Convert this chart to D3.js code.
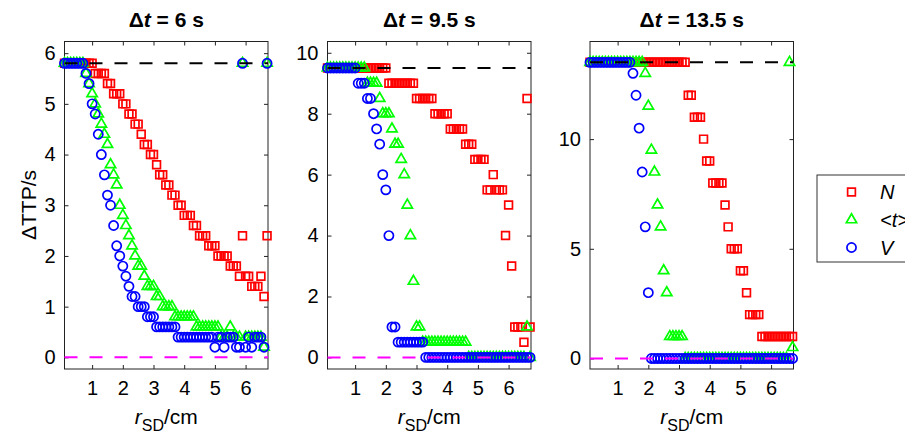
<!DOCTYPE html>
<html>
<head>
<meta charset="utf-8">
<script src="https://cdn.jsdelivr.net/npm/d3@7"></script>
<style>
body { margin: 0; background: #fff; }
text { font-family: "Liberation Sans", Arial, sans-serif; fill: #000; }
</style>
</head>
<body>
<svg id="chart" width="905" height="436"></svg>
<script>
// source distance grid (cm)
var rSD = [0.1,0.2,0.3,0.4,0.5,0.6,0.7,0.8,0.9,1.0,
           1.1,1.2,1.3,1.4,1.5,1.6,1.7,1.8,1.9,2.0,
           2.1,2.2,2.3,2.4,2.5,2.6,2.7,2.8,2.9,3.0,
           3.1,3.2,3.3,3.4,3.5,3.6,3.7,3.8,3.9,4.0,
           4.1,4.2,4.3,4.4,4.5,4.6,4.7,4.8,4.9,5.0,
           5.1,5.2,5.3,5.4,5.5,5.6,5.7,5.8,5.9,6.0,
           6.1,6.2,6.3,6.4,6.5,6.6,6.7];

// dt = 6 s
var dt6N = [5.8,5.8,5.8,5.8,5.8,5.8,5.8,5.8,5.8,5.8,
            5.6,5.6,5.6,5.6,5.4,5.4,5.2,5.2,5.2,5.0,
            5.0,4.8,4.8,4.6,4.6,4.4,4.2,4.2,4.0,4.0,
            3.8,3.6,3.6,3.4,3.4,3.2,3.2,3.0,3.0,2.8,
            2.8,2.8,2.6,2.6,2.4,2.4,2.4,2.2,2.2,2.2,
            2.0,2.0,2.0,2.0,1.8,1.8,1.8,1.6,2.4,1.6,
            1.6,1.4,1.4,1.4,1.6,1.2,2.4];
var dt6T = [5.8,5.8,5.8,5.8,5.8,5.8,5.8,5.6,5.4,5.2,
            5.0,4.8,4.6,4.4,4.2,3.8,3.6,3.4,3.0,2.8,
            2.6,2.4,2.2,2.0,1.8,1.8,1.6,1.4,1.4,1.4,
            1.2,1.2,1.0,1.0,1.0,1.0,0.8,0.8,0.8,0.8,
            0.8,0.8,0.8,0.6,0.6,0.6,0.6,0.6,0.6,0.6,
            0.6,0.4,0.4,0.4,0.6,0.4,0.4,0.4,5.8,0.4,
            0.4,0.4,0.4,0.4,0.4,0.2,5.8];
var dt6V = [5.8,5.8,5.8,5.8,5.8,5.8,5.8,5.6,5.4,5.0,
            4.8,4.4,4.0,3.6,3.2,3.0,2.6,2.2,2.0,1.8,
            1.6,1.4,1.2,1.2,1.0,1.0,1.0,0.8,0.8,0.8,
            0.6,0.6,0.6,0.6,0.6,0.6,0.6,0.4,0.4,0.4,
            0.4,0.4,0.4,0.4,0.4,0.4,0.4,0.4,0.4,0.2,
            0.4,0.4,0.2,0.4,0.4,0.4,0.2,0.2,5.8,0.2,
            0.4,0.2,0.4,0.4,0.4,0.2,5.8];

// dt = 9.5 s
var dt95N = [9.5,9.5,9.5,9.5,9.5,9.5,9.5,9.5,9.5,9.5,
             9.5,9.5,9.5,9.5,9.5,9.5,9.5,9.5,9.5,9.5,
             9.0,9.0,9.0,9.0,9.0,9.0,9.0,9.0,9.0,8.5,
             8.5,8.5,8.5,8.5,8.5,8.0,8.0,8.0,8.0,8.0,
             7.5,7.5,7.5,7.5,7.5,7.0,7.0,7.0,6.5,6.5,
             6.5,6.5,5.5,5.5,6.0,5.5,5.5,5.5,4.0,5.0,
             3.0,1.0,1.0,1.0,0.5,8.5,1.0];
var dt95T = [9.5,9.5,9.5,9.5,9.5,9.5,9.5,9.5,9.5,9.5,
             9.5,9.5,9.5,9.0,9.0,9.0,9.0,8.5,8.0,8.0,
             8.0,7.5,7.0,7.0,6.5,6.0,5.0,4.0,2.5,1.0,
             1.0,0.5,0.5,0.5,0.5,0.5,0.5,0.5,0.5,0.5,
             0.5,0.5,0.5,0.5,0.5,0.5,0,0,0,0,
             0,0,0,0,0,0,0,0,0,0,
             0,0,0,0,0,1.0,0];
var dt95V = [9.5,9.5,9.5,9.5,9.5,9.5,9.5,9.5,9.5,9.5,
             9.0,9.0,9.0,8.5,8.5,8.0,7.5,7.0,6.0,5.5,
             4.0,1.0,1.0,0.5,0.5,0.5,0.5,0.5,0.5,0.5,
             0.5,0.5,0,0,0,0,0,0,0,0,
             0,0,0,0,0,0,0,0,0,0,
             0,0,0,0,0,0,0,0,0,0,
             0,0,0,0,0,0,0];

// dt = 13.5 s
var dt135N = [13.5,13.5,13.5,13.5,13.5,13.5,13.5,13.5,13.5,13.5,
              13.5,13.5,13.5,13.5,13.5,13.5,13.5,13.5,13.5,13.5,
              13.5,13.5,13.5,13.5,13.5,13.5,13.5,13.5,13.5,13.5,
              13.5,13.5,12,12,11,11,11,10,9,9,
              8,8,8,8,7,6,5,5,5,4,
              4,3,2,2,2,2,1,1,1,1,
              1,1,1,1,1,1,1];
var dt135T = [13.5,13.5,13.5,13.5,13.5,13.5,13.5,13.5,13.5,13.5,
              13.5,13.5,13.5,13.5,13.5,13.5,13.5,13.5,13,11.5,
              9.5,8.5,7,6,4,3,1,1,1,1,
              1,0,0,0,0,0,0,0,0,0,
              0,0,0,0,0,0,0,0,0,0,
              0,0,0,0,0,0,0,0,0,0,
              0,0,0,0,0,13.5,0.5];
var dt135V = [13.5,13.5,13.5,13.5,13.5,13.5,13.5,13.5,13.5,13.5,
              13.5,13.5,13.5,13.5,13,12,10.5,8.5,6,3,
              0,0,0,0,0,0,0,0,0,0,
              0,0,0,0,0,0,0,0,0,0,
              0,0,0,0,0,0,0,0,0,0,
              0,0,0,0,0,0,0,0,0,0,
              0,0,0,0,0,0,0];

var deltaT = ['6', '9.5', '13.5'];
var refLevels = [5.8, 9.5, 13.5];
var yLimits = [[-0.23, 6.23], [-0.38, 10.37], [-0.48, 14.45]];
var yTickVals = [[0,1,2,3,4,5,6], [0,2,4,6,8,10], [0,5,10]];
var xTickVals = [1,2,3,4,5,6];
var xLimits = [0.1, 6.73];

var seriesNames = ['N', '<t>', 'V'];
var seriesColors = ['#ff0000', '#00ff00', '#0000ff'];
var seriesSymbols = [d3.symbolSquare, d3.symbolTriangle, d3.symbolCircle];
var symbolSizes = [60, 46, 66];
var panelSeries = [[dt6N, dt6T, dt6V], [dt95N, dt95T, dt95V], [dt135N, dt135T, dt135V]];

var boxLeft = [64.5, 327.5, 590];
var boxW = 203.5;
var boxTop = 41.5, boxBot = 369;
var fs = 20;

var svg = d3.select('#chart');

panelSeries.forEach(function (series, p) {
  var x = d3.scaleLinear().domain(xLimits).range([boxLeft[p], boxLeft[p] + boxW]);
  var y = d3.scaleLinear().domain(yLimits[p]).range([boxBot, boxTop]);
  var g = svg.append('g');

  // axes (ticks pointing inward like matlab)
  var fmt = d3.format('~g');
  var axB = d3.axisBottom(x).tickValues(xTickVals).tickFormat(fmt).tickSizeInner(-4).tickSizeOuter(0).tickPadding(12);
  var axT = d3.axisTop(x).tickValues(xTickVals).tickSizeInner(-4).tickSizeOuter(0).tickFormat('');
  var axL = d3.axisLeft(y).tickValues(yTickVals[p]).tickFormat(fmt).tickSizeInner(-4).tickSizeOuter(0).tickPadding(9);
  var axR = d3.axisRight(y).tickValues(yTickVals[p]).tickSizeInner(-4).tickSizeOuter(0).tickFormat('');

  [[axB, 'translate(0,' + boxBot + ')'], [axT, 'translate(0,' + boxTop + ')'],
   [axL, 'translate(' + boxLeft[p] + ',0)'], [axR, 'translate(' + (boxLeft[p] + boxW) + ',0)']]
    .forEach(function (a) {
      var ag = g.append('g').attr('transform', a[1]).call(a[0]);
      ag.select('.domain').remove();
      ag.selectAll('line').attr('stroke', '#222');
      ag.selectAll('text').style('font-size', fs + 'px').attr('fill', '#000');
    });

  g.append('rect')
    .attr('x', boxLeft[p]).attr('y', boxTop)
    .attr('width', boxW).attr('height', boxBot - boxTop)
    .attr('fill', 'none').attr('stroke', '#222').attr('stroke-width', 1);

  // markers: red, then green, then blue on top
  series.forEach(function (vals, s) {
    var sym = d3.symbol().type(seriesSymbols[s]).size(symbolSizes[s]);
    g.append('g').selectAll('path')
      .data(vals.map(function (v, i) { return [rSD[i], v]; }))
      .join('path')
      .attr('transform', function (d) { return 'translate(' + x(d[0]) + ',' + y(d[1]) + ')'; })
      .attr('d', sym)
      .attr('fill', 'none')
      .attr('stroke', seriesColors[s])
      .attr('stroke-width', 1.7);
  });

  // reference lines
  g.append('line')
    .attr('x1', x(xLimits[0])).attr('x2', x(xLimits[1]))
    .attr('y1', y(refLevels[p])).attr('y2', y(refLevels[p]))
    .attr('stroke', '#000').attr('stroke-width', 2).attr('stroke-dasharray', '13,12');
  g.append('line')
    .attr('x1', x(xLimits[0])).attr('x2', x(xLimits[1]))
    .attr('y1', y(0)).attr('y2', y(0))
    .attr('stroke', '#ff00ff').attr('stroke-width', 2).attr('stroke-dasharray', '13,12');

  // title
  var cx = boxLeft[p] + boxW / 2;
  var title = g.append('text').attr('x', cx).attr('y', 27)
    .attr('text-anchor', 'middle').style('font-size', '21px').style('font-weight', 'bold');
  title.append('tspan').text('\u0394');
  title.append('tspan').style('font-style', 'italic').text('t');
  title.append('tspan').text(' = ' + deltaT[p] + ' s');

  // x label
  var xl = g.append('text').attr('x', cx).attr('y', 424)
    .attr('text-anchor', 'middle').style('font-size', '21px');
  xl.append('tspan').style('font-style', 'italic').text('r');
  xl.append('tspan').attr('dy', 7).style('font-size', '16px').text('SD');
  xl.append('tspan').attr('dy', -7).text('/cm');
});

// y label
svg.append('text')
  .attr('transform', 'translate(36,205) rotate(-90)')
  .attr('text-anchor', 'middle').style('font-size', '21px')
  .text('\u0394TTP/s');

// legend (runs off the right edge, as in the reference)
var lg = svg.append('g');
lg.append('rect').attr('x', 817).attr('y', 175).attr('width', 120).attr('height', 87)
  .attr('fill', '#fff').attr('stroke', '#333').attr('stroke-width', 1);
var legY = d3.scalePoint().domain(seriesNames).range([192, 247.5]);
seriesNames.forEach(function (name, s) {
  lg.append('path')
    .attr('transform', 'translate(851.5,' + legY(name) + ')')
    .attr('d', d3.symbol().type(seriesSymbols[s]).size(symbolSizes[s])())
    .attr('fill', 'none').attr('stroke', seriesColors[s]).attr('stroke-width', 1.7);
  lg.append('text').attr('x', 880).attr('y', legY(name) + 7)
    .style('font-size', fs + 'px').style('font-style', 'italic').text(name);
});
</script>
</body>
</html>
